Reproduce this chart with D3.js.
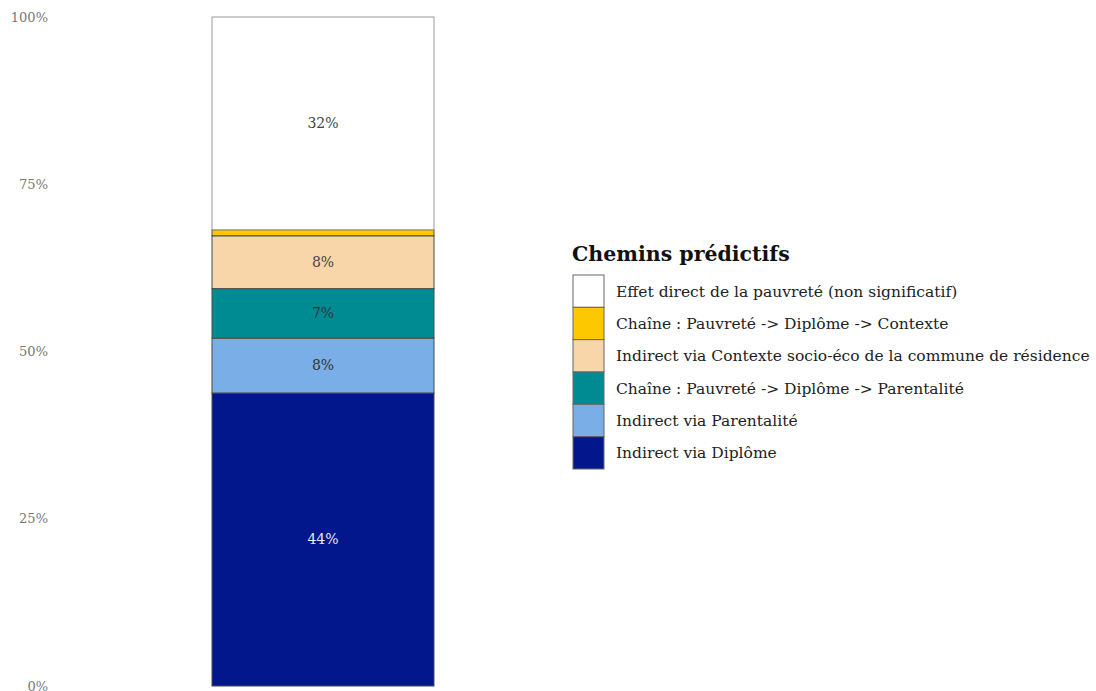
<!DOCTYPE html>
<html lang='fr'>
<head>
  <meta charset="utf-8" />
  <title>Chemins prédictifs</title>
  <script src="https://d3js.org/d3.v7.min.js"></script>
  <style>
    body { margin: 0; background: #fff; }
    text { font-family: "DejaVu Serif", "Liberation Serif", serif; }
  </style>
</head>
<body>
  <script>
	// data, bottom to top of the stack
	var paths = ["Indirect via Diplôme",
				 "Indirect via Parentalité",
				 "Chaîne : Pauvreté -> Diplôme -> Parentalité",
				 "Indirect via Contexte socio-éco de la commune de résidence",
				 "Chaîne : Pauvreté -> Diplôme -> Contexte",
				 "Effet direct de la pauvreté (non significatif)"];
	var shares = [43.8, 8.2, 7.4, 7.9, 0.9, 31.8];
	var colors = ["#02178c", "#7aaee6", "#008b93", "#f8d6a9", "#fdc800", "#ffffff"];
	var labelColors = ["#e8e8f0", "#333", "#333", "#444", "#444", "#444"];
	var yTicks = [0, 25, 50, 75, 100];

	var w = 1096;
	var h = 691;

	var svg = d3.select("body")
				.append("svg")
				.attr("width", w)
				.attr("height", h);

	var y = d3.scaleLinear()
				.domain([0, 100])
				.range([686, 17]);

	var x = d3.scaleBand()
				.domain(["all"])
				.range([212, 434]);

	// stacking
	var rows = [];
	var acc = 0;
	for (var i = 0; i < shares.length; i++){
		rows.push({name: paths[i], value: shares[i], y0: acc, y1: acc + shares[i],
				   color: colors[i], label: labelColors[i]});
		acc += shares[i];
	}

	// y axis labels only
	var yAxis = d3.axisLeft(y)
				.tickValues(yTicks)
				.tickSize(0)
				.tickPadding(0)
				.tickFormat(function(d){ return d + "%"; });
	var ag = svg.append("g")
				.attr("transform", "translate(48,0)")
				.call(yAxis);
	ag.select(".domain").remove();
	ag.selectAll("text")
		.style("font-family", "'DejaVu Serif', serif")
		.style("font-size", "13px")
		.style("fill", "#777");

	svg.selectAll("rect.seg")
		.data(rows)
		.enter()
		.append("rect")
		.attr("class", "seg")
		.attr("x", x("all"))
		.attr("width", x.bandwidth())
		.attr("y", function(d){ return y(d.y1); })
		.attr("height", function(d){ return y(d.y0) - y(d.y1); })
		.style("fill", function(d){ return d.color; })
		.style("stroke", function(d){ return d.color == "#ffffff" ? "#999" : "#4a4a4a"; })
		.style("stroke-width", 1);

	svg.selectAll("text.val")
		.data(rows.filter(function(d){ return d.value >= 2; }))
		.enter()
		.append("text")
		.attr("class", "val")
		.attr("x", x("all") + x.bandwidth() / 2)
		.attr("y", function(d){ return y((d.y0 + d.y1) / 2); })
		.attr("dy", "0.35em")
		.attr("text-anchor", "middle")
		.style("font-size", "14px")
		.style("fill", function(d){ return d.label; })
		.text(function(d){ return Math.round(d.value) + "%"; });

	// legend, top to bottom
	var legend = svg.append("g")
				.attr("transform", "translate(573,0)");
	legend.append("text")
		.attr("x", -1)
		.attr("y", 261)
		.style("font-size", "20.5px")
		.style("font-weight", "bold")
		.style("fill", "#111")
		.text("Chemins prédictifs");

	var legendRows = rows.slice().reverse();
	var ly = d3.scaleBand()
				.domain(legendRows.map(function(d){ return d.name; }))
				.range([275, 469]);

	var items = legend.selectAll("g.item")
		.data(legendRows)
		.enter()
		.append("g")
		.attr("class", "item")
		.attr("transform", function(d){ return "translate(0," + ly(d.name) + ")"; });
	items.append("rect")
		.attr("width", 31)
		.attr("height", ly.bandwidth())
		.style("fill", function(d){ return d.color; })
		.style("stroke", "#666")
		.style("stroke-width", 1);
	items.append("text")
		.attr("x", 43)
		.attr("y", ly.bandwidth() / 2)
		.attr("dy", "0.35em")
		.style("font-size", "15.5px")
		.style("fill", "#222")
		.text(function(d){ return d.name; });
  </script>
</body>
</html>
